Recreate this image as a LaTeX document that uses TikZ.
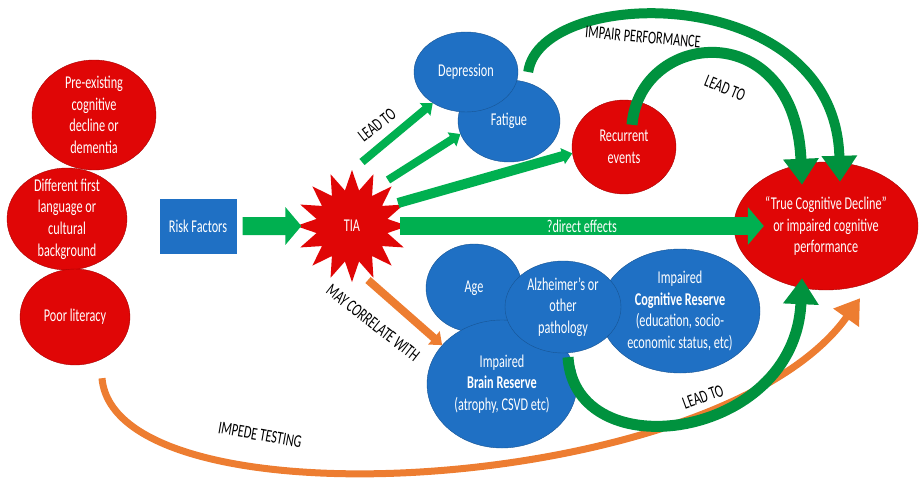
\documentclass[tikz,border=0pt]{standalone}
\usepackage{fontspec}
\setmainfont{Carlito}[FakeStretch=0.68]
\usetikzlibrary{shapes.geometric,arrows.meta}

\definecolor{blobred}{RGB}{224,6,6}
\definecolor{blobblue}{RGB}{31,112,196}
\definecolor{arrgreen}{RGB}{0,176,80}
\definecolor{darkgreen}{RGB}{0,146,62}
\definecolor{arrorange}{RGB}{237,125,49}

\tikzset{
  redblob/.style={ellipse, fill=blobred, draw=blobred!75!black, inner sep=0pt},
  blueblob/.style={ellipse, fill=blobblue, draw=blobblue!75!black, inner sep=0pt},
  blobtext/.style={text=white, align=center},
  fatgreen/.style={draw=arrgreen, line width=18pt, -{Triangle[width=37pt,length=16pt]}},
  thingreen/.style={draw=arrgreen, line width=8pt, -{Triangle[width=16pt,length=10pt]}},
  bendgreen/.style={draw=darkgreen, line width=11pt, -{Triangle[width=34pt,length=26pt]}},
  orangearrow/.style={draw=arrorange, line width=7pt, -{Triangle[width=30pt,length=24pt]}},
}

\begin{document}
\begin{tikzpicture}[x=1pt,y=-1pt,every node/.style={font=\fontsize{18}{21.6}\selectfont}]
            \useasboundingbox (0,0) rectangle (924,482);
            \node[redblob, minimum width=124pt, minimum height=110pt, label={[blobtext]center:{Pre-existing\\cognitive\\decline or\\dementia}}] (pre) at (94,115) {};
            \node[redblob, minimum width=120pt, minimum height=102pt, label={[blobtext]center:{Different first\\language or\\cultural\\background}}] (diff) at (67,219) {};
            \node[redblob, minimum width=110pt, minimum height=96pt, label={[blobtext]center:{Poor literacy}}] (poor) at (75,317) {};
            \node[fill=blobblue, minimum width=77pt, minimum height=55pt, text=white] (risk) at (198,226) {Risk Factors};
            \node[star, star points=16, star point ratio=1.55, fill=blobred, minimum size=112pt, inner sep=0pt, text=white] (tia) at (352,226) {TIA};
            \node[blueblob, minimum width=102pt, minimum height=82pt, label={[blobtext]center:{Fatigue}}] (fat) at (509,121) {};
            \node[blueblob, minimum width=104pt, minimum height=80pt, label={[blobtext]center:{Depression}}] (dep) at (466,72) {};
            \node[redblob, minimum width=104pt, minimum height=94pt, label={[blobtext]center:{Recurrent\\events}}] (rec) at (624,147) {};
            \node[redblob, minimum width=184pt, minimum height=128pt, label={[blobtext]center:{“True Cognitive Decline”\\or impaired cognitive\\performance}}] (tcd) at (826,226) {};
            \node[blueblob, minimum width=96pt, minimum height=88pt, label={[blobtext]center:{Age}}] (age) at (474,288) {};
            \node[blueblob, minimum width=160pt, minimum height=124pt, label={[blobtext]center:{Impaired\\\textbf{Cognitive Reserve}\\(education, socio-\\economic status, etc)}}] (cogres) at (680,311) {};
            \node[blueblob, minimum width=150pt, minimum height=128pt, label={[blobtext]center:{Impaired\\\textbf{Brain Reserve}\\(atrophy, CSVD etc)}}] (brain) at (502,384) {};
            \node[blueblob, minimum width=116pt, minimum height=92pt, label={[blobtext]center:{Alzheimer’s or\\other\\pathology}}] (alz) at (563,307) {};
            \coordinate (lead1) at (362,162);
            \coordinate (lead2) at (388,180);
            \coordinate (lead3) at (398,203);
            \coordinate (direct) at (400,226);
            \coordinate (corr) at (368,280);
            \draw[fatgreen, shorten <=6pt, shorten >=-6pt] (risk.east) -- (tia.west);
            \draw[thingreen] (lead1) -- (dep.223);
            \draw[thingreen] (lead2) -- (fat.195);
            \draw[thingreen, line width=10pt] (lead3) -- (rec.187);
            \draw[fatgreen] (direct) -- ([xshift=30pt]tcd.west) node[midway, text=white] (directlbl) {?direct effects};
            \draw[draw=arrorange, line width=8pt, -{Triangle[width=17pt,length=11pt]}] (corr) -- (brain.147);
            \draw[bendgreen, line width=10pt] ([xshift=10pt]dep.east) .. controls (540,-15) and (835,-20) .. ([shift={(14,20)}]tcd.north);
            \draw[bendgreen] ([shift={(8,25)}]rec.north) .. controls (640,30) and (795,15) .. ([shift={(-24,23)}]tcd.north);
            \draw[orangearrow] ([shift={(27,13)}]poor.south) .. controls (115,530) and (720,495) .. ([shift={(34,8)}]tcd.south);
            \draw[bendgreen] ([shift={(5,4)}]alz.south) .. controls (575,470) and (795,440) .. ([shift={(-24,-12)}]tcd.south);
            \node[rotate=38] (leadlbl) at (377,125) {LEAD TO};
            \node[rotate=-38] (corrlbl) at (373,323) {MAY CORRELATE WITH};
            \node[rotate=-5] (impairlbl) at (643,37) {IMPAIR PERFORMANCE};
            \node[rotate=-22] (reclbl) at (725,88) {LEAD TO};
            \node[rotate=20] (reservelbl) at (703,397) {LEAD TO};
            \node[rotate=-10] (impedelbl) at (260,435) {IMPEDE TESTING};
\end{tikzpicture}
\end{document}
